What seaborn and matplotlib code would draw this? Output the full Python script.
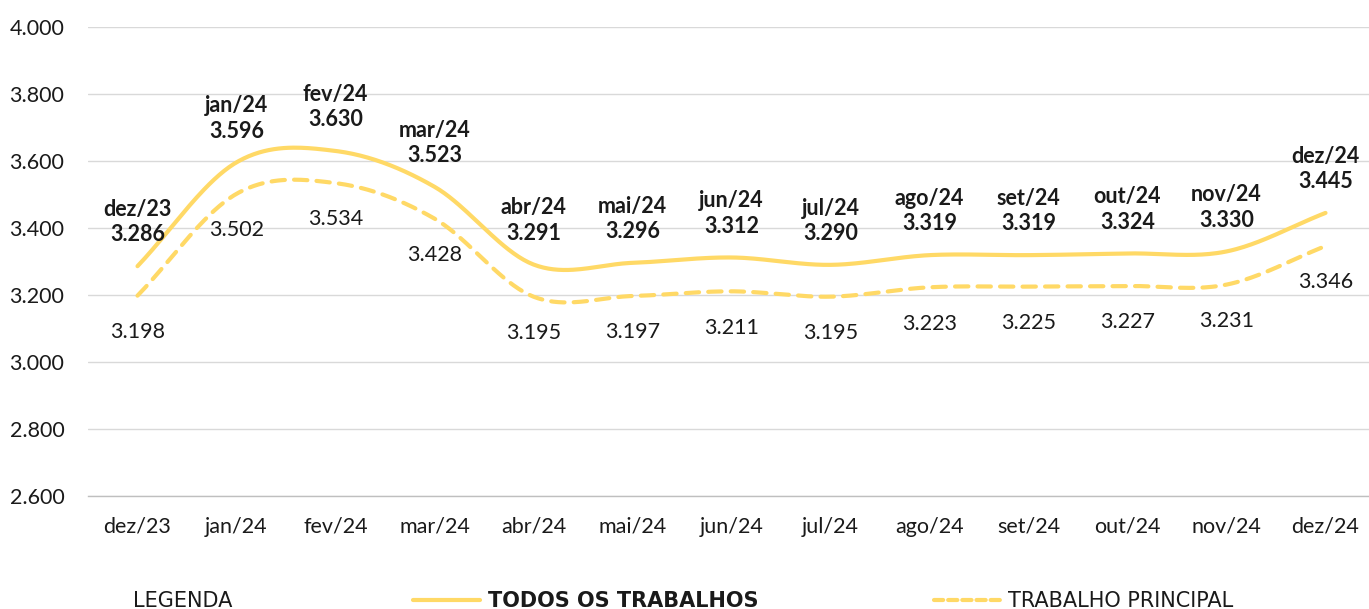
import numpy as np
import pandas as pd
import seaborn as sns
import matplotlib.pyplot as plt
from matplotlib.lines import Line2D

# dados (em milhares, formato 3.286)
meses = ["dez/23", "jan/24", "fev/24", "mar/24", "abr/24", "mai/24", "jun/24",
         "jul/24", "ago/24", "set/24", "out/24", "nov/24", "dez/24"]
todos = [3286, 3596, 3630, 3523, 3291, 3296, 3312, 3290, 3319, 3319, 3324, 3330, 3445]
principal = [3198, 3502, 3534, 3428, 3195, 3197, 3211, 3195, 3223, 3225, 3227, 3231, 3346]

AMARELO = "#FFD966"
TEXTO = "#1a1a1a"
FS = 15.5


def fmt(v):
    return f"{v:,}".replace(",", ".")


def suaviza(y, n=40):
    # curva suave tipo Catmull-Rom passando pelos pontos
    y = np.asarray(y, dtype=float)
    m = np.zeros_like(y)
    m[1:-1] = (y[2:] - y[:-2]) / 2
    m[0] = y[1] - y[0]
    m[-1] = y[-1] - y[-2]
    xs, ys = [], []
    for i in range(len(y) - 1):
        t = np.linspace(0, 1, n, endpoint=False)
        h00 = 2 * t**3 - 3 * t**2 + 1
        h10 = t**3 - 2 * t**2 + t
        h01 = -2 * t**3 + 3 * t**2
        h11 = t**3 - t**2
        xs.append(i + t)
        ys.append(h00 * y[i] + h10 * m[i] + h01 * y[i + 1] + h11 * m[i + 1])
    xs.append([len(y) - 1])
    ys.append([y[-1]])
    return np.concatenate(xs), np.concatenate(ys)


sns.set_theme(style="white")
plt.rcParams["font.family"] = ["Lato", "DejaVu Sans"]

fig = plt.figure(figsize=(13.69, 6.09), dpi=100)
ax = fig.add_axes([88 / 1369, 113 / 609, 1287 / 1369, 469 / 609])

x1, y1 = suaviza(todos)
x2, y2 = suaviza(principal)
df = pd.concat([
    pd.DataFrame({"x": x1, "y": y1, "serie": "TODOS OS TRABALHOS"}),
    pd.DataFrame({"x": x2, "y": y2, "serie": "TRABALHO PRINCIPAL"}),
])

sns.lineplot(data=df[df.serie == "TODOS OS TRABALHOS"], x="x", y="y", sort=False,
             color=AMARELO, linewidth=3, ax=ax, legend=False)
sns.lineplot(data=df[df.serie == "TRABALHO PRINCIPAL"], x="x", y="y", sort=False,
             color=AMARELO, linewidth=3, ax=ax, legend=False)
ax.lines[1].set_dashes((3.2, 2.2))
ax.lines[1].set_dash_capstyle("round")

ax.set_xlim(-0.5, len(meses) - 0.5)
ax.set_ylim(2600, 4000)
ax.set_yticks(np.arange(2600, 4001, 200))
ax.set_yticklabels([fmt(v) for v in range(2600, 4001, 200)], fontsize=FS, color=TEXTO)
ax.set_xticks(range(len(meses)))
ax.set_xticklabels(meses, fontsize=FS, color=TEXTO)
ax.set_xticks(np.arange(-0.5, len(meses) - 0.5, 1), minor=True)
ax.tick_params(axis="x", which="major", length=0, pad=15)
ax.tick_params(axis="x", which="minor", direction="inout", length=12, width=1, color="#bfbfbf")
ax.tick_params(axis="y", length=0, pad=17)
ax.set_xlabel("")
ax.set_ylabel("")

ax.grid(axis="y", color="#d9d9d9", linewidth=1)
for s in ["top", "right", "left"]:
    ax.spines[s].set_visible(False)
ax.spines["bottom"].set_color("#bfbfbf")
ax.spines["bottom"].set_linewidth(1)
ax.spines["bottom"].set_zorder(0)

# rótulos
for i, (m, a, b) in enumerate(zip(meses, todos, principal)):
    ax.annotate(f"{m}\n{fmt(a)}", (i, a), xytext=(0, 15), textcoords="offset points",
                ha="center", va="bottom", fontsize=FS, fontweight="bold",
                color=TEXTO, linespacing=1.25)
    ax.annotate(fmt(b), (i, b), xytext=(0, -19), textcoords="offset points",
                ha="center", va="top", fontsize=FS, color=TEXTO)

# legenda
leg_font = ["DejaVu Sans"]
fig.text(133 / 1369, 8 / 609, "LEGENDA", fontsize=15, family=leg_font,
         color=TEXTO, va="center", ha="left")
handles = [Line2D([], [], color=AMARELO, linewidth=3),
           Line2D([], [], color=AMARELO, linewidth=3, dashes=(2.2, 1.2),
                  dash_capstyle="round")]
leg = fig.legend(handles, ["TODOS OS TRABALHOS", "TRABALHO PRINCIPAL"],
                 loc="center left", bbox_to_anchor=(413 / 1369, 8 / 609),
                 ncol=2, frameon=False, handlelength=3.2, handletextpad=0.4,
                 columnspacing=8.4, borderpad=0, borderaxespad=0,
                 prop={"family": leg_font, "size": 15})
leg.get_texts()[0].set_fontweight("bold")
for t in leg.get_texts():
    t.set_color(TEXTO)

fig.savefig("out.png", dpi=100)
